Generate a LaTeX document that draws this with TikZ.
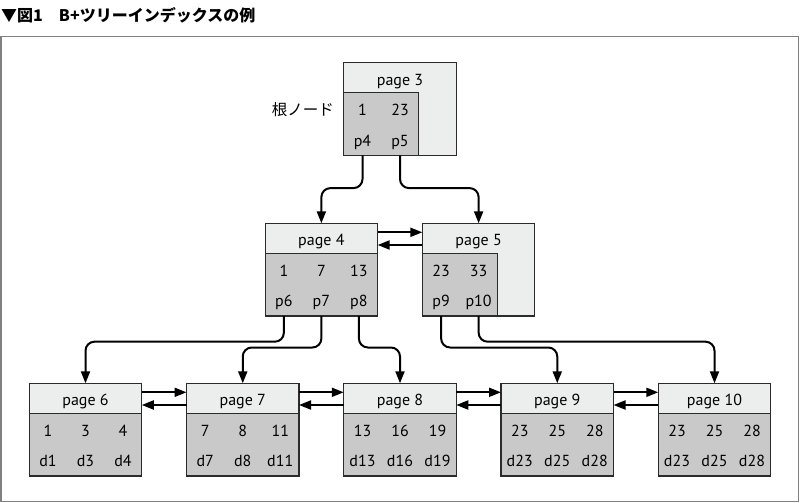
\documentclass[tikz,border=0pt]{standalone}
\usepackage{fontspec}
\setmainfont{PT Sans}
\newfontfamily\jpfont{Noto Sans CJK JP}
\usetikzlibrary{arrows.meta}
\definecolor{hdr}{HTML}{ECEDED}
\definecolor{bodyc}{HTML}{C9C9C9}
\definecolor{edgec}{HTML}{2B2B2B}
\definecolor{framec}{HTML}{808080}
\tikzset{
  pagebox/.style={draw=edgec, line width=1.2pt, fill=hdr, minimum width=112.5pt,
    minimum height=92.7pt, inner sep=0pt, outer sep=0pt, anchor=north},
  fullbody/.style={path picture={
    \fill[bodyc] (path picture bounding box.south west) rectangle ([yshift=62.7pt]path picture bounding box.south east);
    \draw[edgec, line width=1.2pt] ([yshift=62.7pt]path picture bounding box.south west) -- ([yshift=62.7pt]path picture bounding box.south east);}},
  partbody/.style={path picture={
    \filldraw[fill=bodyc, draw=edgec, line width=1.2pt] (path picture bounding box.south west) rectangle ([xshift=75pt,yshift=62.7pt]path picture bounding box.south west);}},
  lbl/.style={font=\fontsize{16}{18}\selectfont, inner sep=0pt, anchor=base},
  link/.style={draw=black, line width=2pt, rounded corners=9pt, -{Triangle[length=12pt,width=9pt]}},
  side/.style={draw=black, line width=2pt, -{Triangle[length=12pt,width=9pt]}},
}
\newcommand\pgtitle[2]{\node[lbl] (#1-t) at ([yshift=-22.5pt]#1.north) {#2};}
\newcommand\rowsthree[7]{%
  \node[lbl] (#1-a) at ([xshift=18.75pt,yshift=-52.7pt]#1.north west) {#2};
  \node[lbl] (#1-b) at ([xshift=56.25pt,yshift=-52.7pt]#1.north west) {#3};
  \node[lbl] (#1-c) at ([xshift=93.75pt,yshift=-52.7pt]#1.north west) {#4};
  \node[lbl] (#1-d) at ([xshift=18.75pt,yshift=-83.4pt]#1.north west) {#5};
  \node[lbl] (#1-e) at ([xshift=56.25pt,yshift=-83.4pt]#1.north west) {#6};
  \node[lbl] (#1-f) at ([xshift=93.75pt,yshift=-83.4pt]#1.north west) {#7};}
\newcommand\rowstwo[5]{%
  \node[lbl] (#1-a) at ([xshift=18.75pt,yshift=-52.7pt]#1.north west) {#2};
  \node[lbl] (#1-b) at ([xshift=56.25pt,yshift=-52.7pt]#1.north west) {#3};
  \node[lbl] (#1-d) at ([xshift=18.75pt,yshift=-83.4pt]#1.north west) {#4};
  \node[lbl] (#1-e) at ([xshift=56.25pt,yshift=-83.4pt]#1.north west) {#5};}
\begin{document}
\begin{tikzpicture}[x=1pt,y=-1pt]
\useasboundingbox (0,0) rectangle (800,503);
\node[anchor=west, inner sep=0pt, font=\jpfont\bfseries\fontsize{16}{18}\selectfont] (title) at (1,15.5) {▼図1　B+ツリーインデックスの例};
\draw[framec, line width=1.5pt] (1,36.5) rectangle (798.5,501.5);

% root
\node[pagebox, partbody] (pg3) at (400,62.7) {};
\pgtitle{pg3}{page 3}
\rowstwo{pg3}{1}{23}{p4}{p5}
\node[anchor=base east, inner sep=0pt, font=\jpfont\fontsize{15.5}{18}\selectfont] (root) at (334,115.4) {根ノード};

% internal
\node[pagebox, fullbody] (pg4) at (321.375,223.3) {};
\pgtitle{pg4}{page 4}
\rowsthree{pg4}{1}{7}{13}{p6}{p7}{p8}
\node[pagebox, partbody] (pg5) at (478.625,223.3) {};
\pgtitle{pg5}{page 5}
\rowstwo{pg5}{23}{33}{p9}{p10}

% leaves
\node[pagebox, fullbody] (pg6) at (85.5,383.3) {};
\pgtitle{pg6}{page 6}
\rowsthree{pg6}{1}{3}{4}{d1}{d3}{d4}
\node[pagebox, fullbody] (pg7) at (242.75,383.3) {};
\pgtitle{pg7}{page 7}
\rowsthree{pg7}{7}{8}{11}{d7}{d8}{d11}
\node[pagebox, fullbody] (pg8) at (400,383.3) {};
\pgtitle{pg8}{page 8}
\rowsthree{pg8}{13}{16}{19}{d13}{d16}{d19}
\node[pagebox, fullbody] (pg9) at (557.25,383.3) {};
\pgtitle{pg9}{page 9}
\rowsthree{pg9}{23}{25}{28}{d23}{d25}{d28}
\node[pagebox, fullbody] (pg10) at (714.5,383.3) {};
\pgtitle{pg10}{page 10}
\rowsthree{pg10}{23}{25}{28}{d23}{d25}{d28}

% tree links
\draw[link] (pg3-d |- pg3.south) -- ++(0,32.7) -| (pg4.north);
\draw[link] (pg3-e |- pg3.south) -- ++(0,32.7) -| (pg5.north);
\draw[link] (pg4-d |- pg4.south) -- ++(0,25.7) -| (pg6.north);
\draw[link] (pg4-e |- pg4.south) -- ++(0,31.5) -| (pg7.north);
\draw[link] (pg4-f |- pg4.south) -- ++(0,31.5) -| (pg8.north);
\draw[link] (pg5-d |- pg5.south) -- ++(0,31.5) -| (pg9.north);
\draw[link] (pg5-e |- pg5.south) -- ++(0,25.7) -| (pg10.north);

% sibling links
\foreach \a/\b in {pg4/pg5, pg6/pg7, pg7/pg8, pg8/pg9, pg9/pg10}{
  \draw[side] ([yshift=-9pt]\a.north east) -- ([yshift=-9pt]\b.north west);
  \draw[side] ([yshift=-21.7pt]\b.north west) -- ([yshift=-21.7pt]\a.north east);
}
\end{tikzpicture}
\end{document}
